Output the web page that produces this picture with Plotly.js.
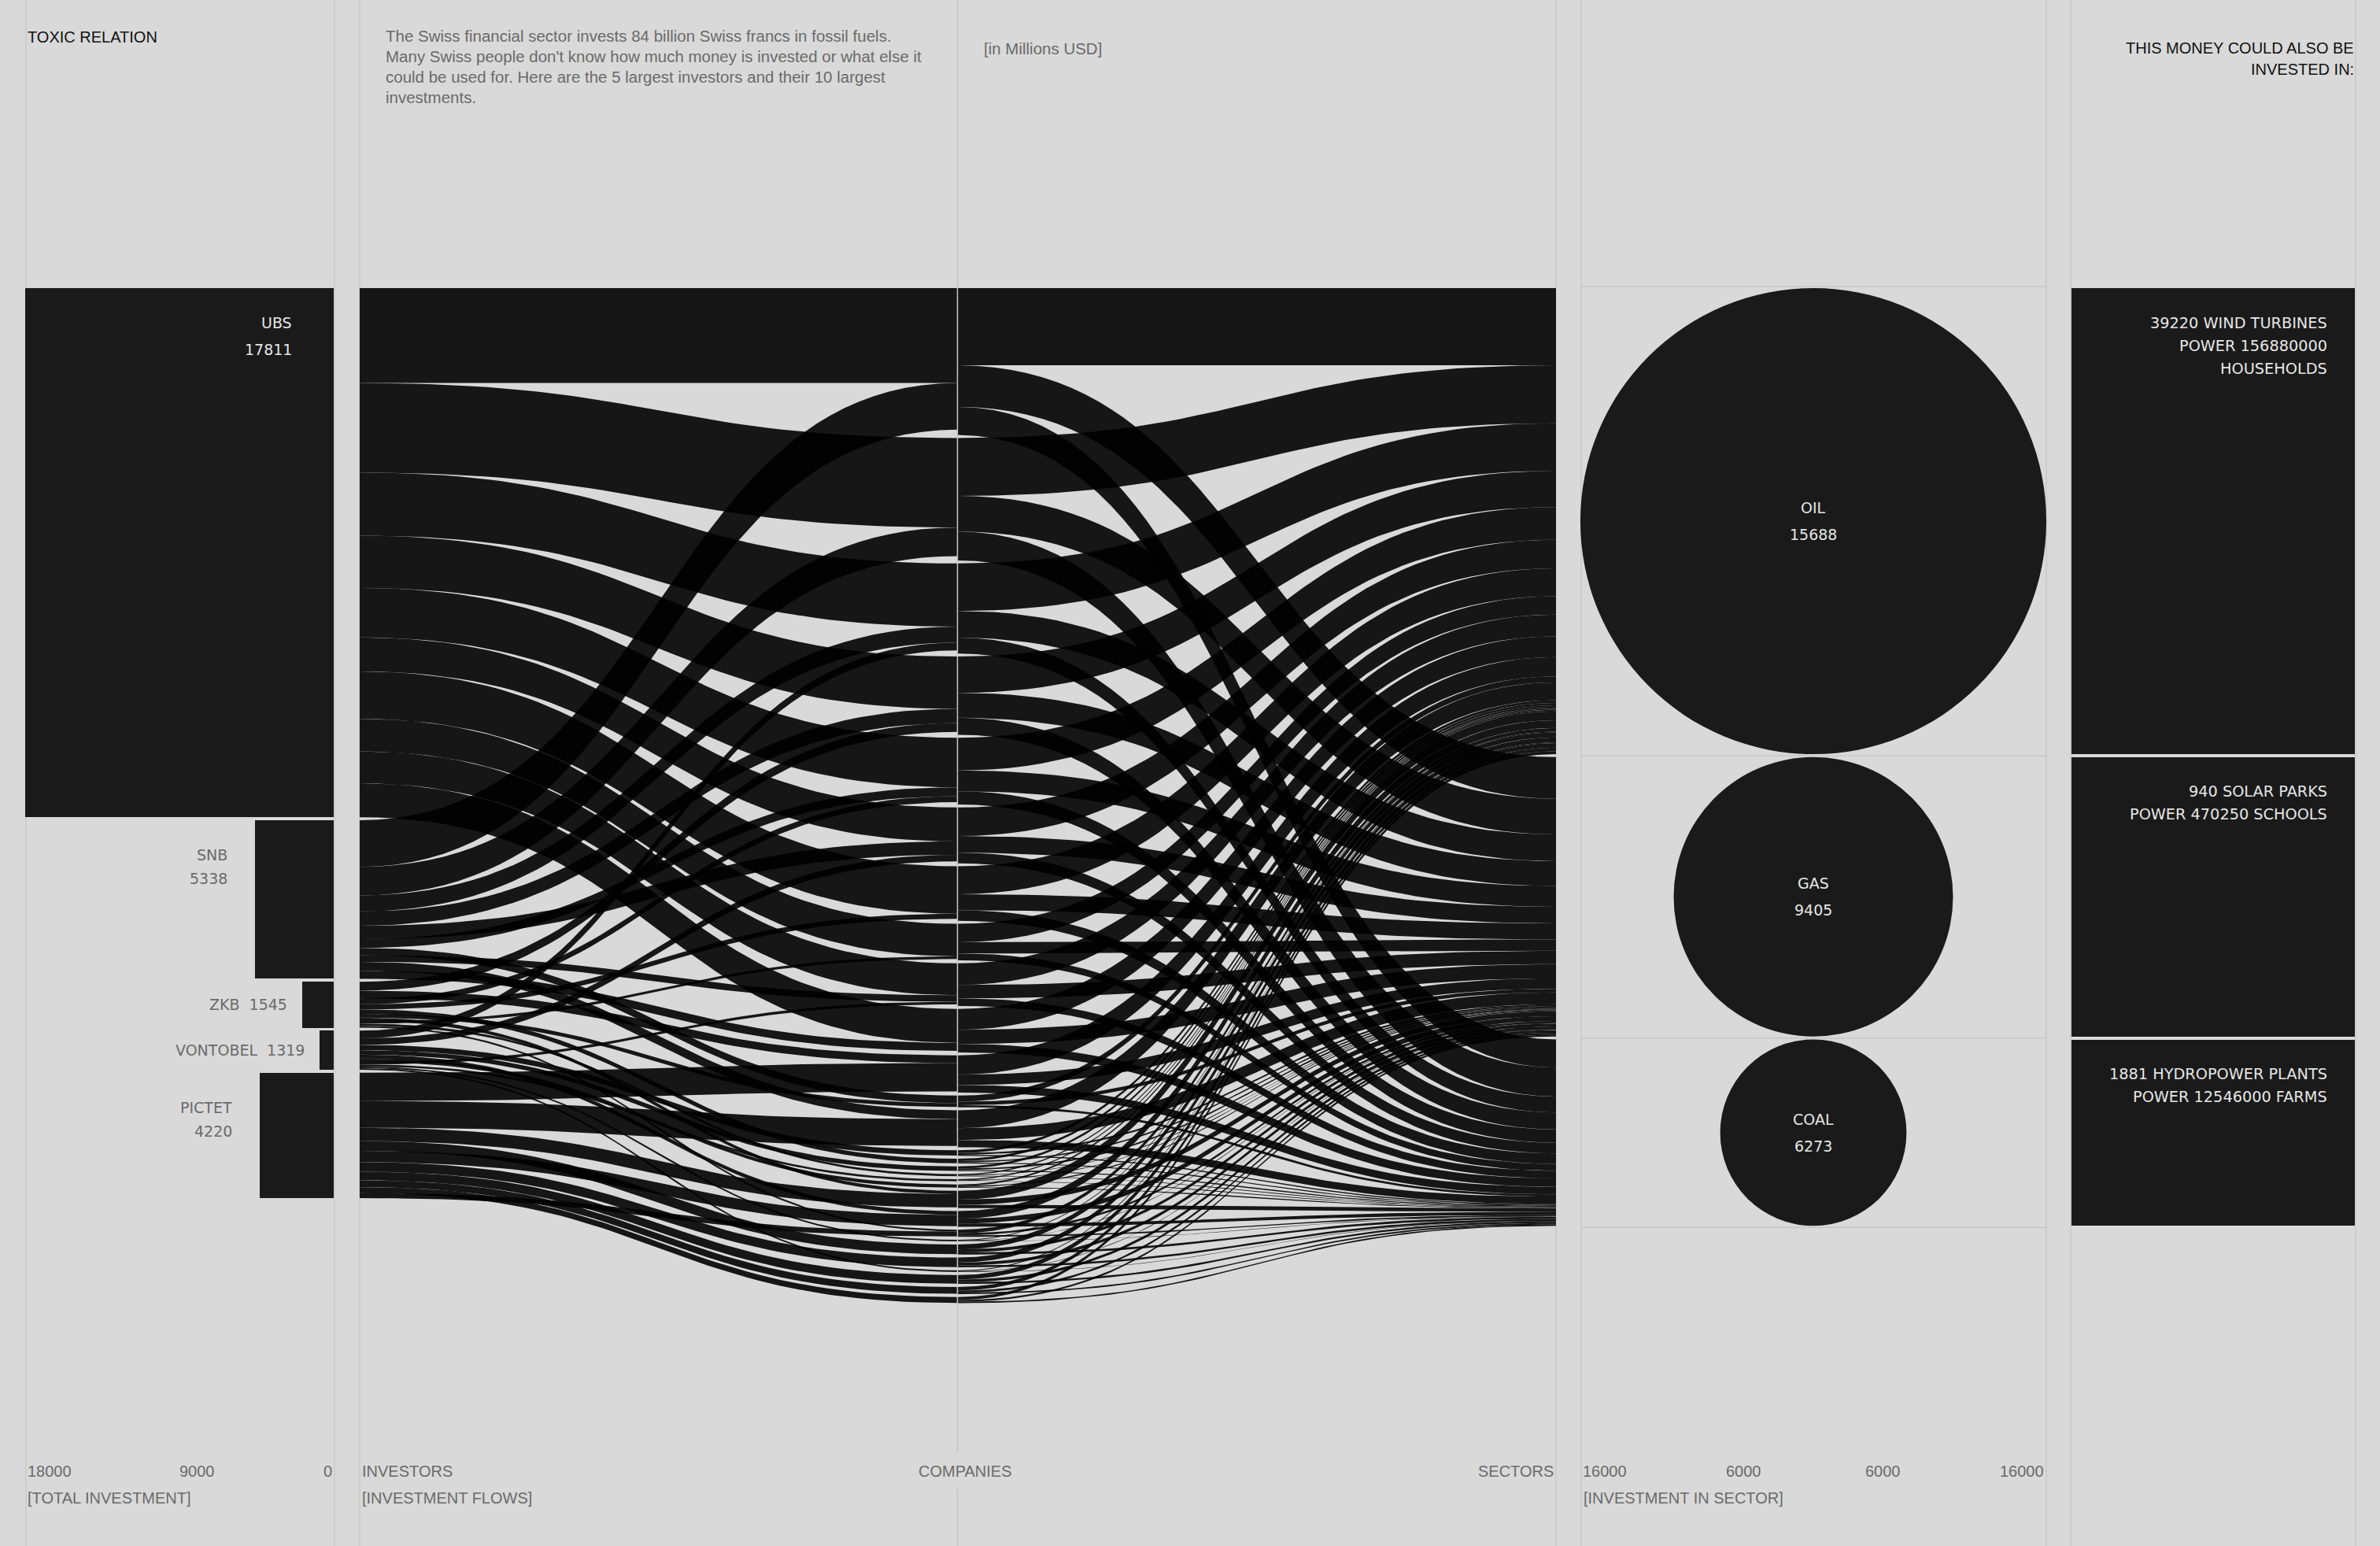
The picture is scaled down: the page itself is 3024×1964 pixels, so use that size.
<!DOCTYPE html>
<html>
<head>
<meta charset="utf-8">
<script src="https://cdn.plot.ly/plotly-3.0.1.min.js"></script>
<style>
html,body{margin:0;padding:0;background:#d9d9d9;}
#chart{width:3024px;height:1964px;}
</style>
</head>
<body>
<div id="chart"></div>
<script>
// ---------------- DATA ----------------
const investors = ["UBS", "SNB", "ZKB", "VONTOBEL", "PICTET"];
const investorValues = [17811, 5338, 1545, 1319, 4220];      // top-10 investments (labels, flow widths)
const totalInvestment = [17811, 4540, 1820, 820, 4270];      // bar lengths on the [TOTAL INVESTMENT] axis

// 29 companies (names are not shown in the chart)
const companies = ["C01","C02","C03","C04","C05","C06","C07","C08","C09","C10",
                   "C11","C12","C13","C14","C15","C16","C17","C18","C19","C20",
                   "C21","C22","C23","C24","C25","C26","C27","C28","C29"];

const ubsValues      = [3196, 3014, 2125, 1758, 1667, 1141, 1598, 1096, 1074, 1142];
const ubsTargets     = [1, 2, 3, 4, 5, 6, 7, 8, 9, 10];
const snbValues      = [1570, 960, 540, 480, 450, 300, 250, 220, 300, 268];
const snbTargets     = [1, 2, 3, 4, 6, 5, 12, 9, 13, 10];
const zkbValues      = [300, 260, 200, 170, 150, 130, 110, 90, 75, 60];
const zkbTargets     = [4, 11, 5, 7, 15, 12, 20, 8, 17, 22];
const vontobelValues = [260, 220, 180, 150, 130, 110, 90, 70, 55, 54];
const vontobelTargets= [3, 6, 14, 16, 21, 19, 9, 18, 23, 26];
const pictetValues   = [950, 900, 450, 330, 380, 320, 290, 230, 200, 170];
const pictetTargets  = [11, 13, 20, 24, 21, 25, 27, 28, 29, 22];

const sectors = ["OIL", "GAS", "COAL"];
const sectorValues = [15688, 9405, 6273];
const companyOil  = [2600,1950,1600,1222,1100,960,940,620,730,700,650,200,600,90,80,75,40,35,55,300,260,120,28,170,165,28,150,120,100];
const companyGas  = [1400,1200,900,838,700,560,540,380,450,480,350,120,400,60,45,50,22,22,35,170,160,70,17,100,100,16,90,70,60];
const companyCoal = [945,973,535,573,448,359,354,231,256,283,255,74,245,37,31,31,16,16,24,111,109,49,12,72,67,12,61,49,45];

const alternatives = [
  ["39220 WIND TURBINES", "POWER 156880000", "HOUSEHOLDS"],
  ["940 SOLAR PARKS", "POWER 470250 SCHOOLS"],
  ["1881 HYDROPOWER PLANTS", "POWER 12546000 FARMS"]
];

const leftTicks = [18000, 9000, 0];
const sectorTickVals = [-16000, -6000, 6000, 16000];
const sectorTickText = ["16000", "6000", "6000", "16000"];

const description = [
  "The Swiss financial sector invests 84 billion Swiss francs in fossil fuels.",
  "Many Swiss people don't know how much money is invested or what else it",
  "could be used for. Here are the 5 largest investors and their 10 largest",
  "investments."
];

// ---------------- LAYOUT CONSTANTS ----------------
const W = 3024, H = 1964;
const K = 0.03774;          // px per value unit (vertical)
const TOP = 366;            // px of first node top
const PAD = 100;            // node gap, value units
const LK = 392 / 17811;     // px per unit on the left bar axis
const CX = 2304;            // circle centre px
const px = v => v / W;
const py = v => 1 - v / H;

const BG = "#d9d9d9", INK = "#1a1a1a", GRID = "#c7c7c7", GREY = "#6a6a6a";
const HEAD_FONT = "Liberation Sans, Arial, sans-serif";
const LAB_FONT = "DejaVu Sans, Verdana, sans-serif";
const HS = 20, DS = 20.5, LS = 19;

// ---------------- SANKEY GEOMETRY ----------------
const invLinks = [
  {vals: ubsValues, tg: ubsTargets},
  {vals: snbValues, tg: snbTargets},
  {vals: zkbValues, tg: zkbTargets},
  {vals: vontobelValues, tg: vontobelTargets},
  {vals: pictetValues, tg: pictetTargets}
];

let acc = 0;
const invTop = [];
investorValues.forEach(v => { invTop.push(acc); acc += v + PAD; });

const nC = companies.length;
const compIn = Array(nC).fill(0);
invLinks.forEach(L => L.vals.forEach((v, j) => { compIn[L.tg[j] - 1] += v; }));
const compOut = companies.map((c, i) => companyOil[i] + companyGas[i] + companyCoal[i]);
const compSize = compOut.map((o, i) => Math.max(o, compIn[i]));
const compTop = [];
acc = 0;
compSize.forEach(s => { compTop.push(acc); acc += s + PAD; });

const secTop = [];
acc = 0;
sectorValues.forEach(v => { secTop.push(acc); acc += v + PAD; });

function band(x0, x1, a0, b0, a1, b1) {
  const N = 48, xs = [], ys = [];
  const xm = (x0 + x1) / 2;
  const bx = t => (1-t)**3*x0 + 3*(1-t)**2*t*xm + 3*(1-t)*t*t*xm + t**3*x1;
  const s = t => 3*t*t - 2*t**3;
  for (let i = 0; i <= N; i++) { const t = i / N; xs.push(bx(t)); ys.push(a0 + (a1 - a0) * s(t)); }
  for (let i = N; i >= 0; i--) { const t = i / N; xs.push(bx(t)); ys.push(b0 + (b1 - b0) * s(t)); }
  xs.push(xs[0]); ys.push(ys[0]);
  return {xs, ys};
}

const traces = [];

// left bars
traces.push({
  type: "bar", orientation: "h",
  x: totalInvestment,
  y: investorValues.map((v, i) => invTop[i] + v / 2),
  width: investorValues,
  base: 0,
  xaxis: "x", yaxis: "y",
  marker: {color: INK, line: {width: 0}},
  hoverinfo: "skip", showlegend: false
});

// flows investors -> companies
const compOff = Array(nC).fill(0);
invLinks.forEach((L, i) => {
  let off = invTop[i];
  L.vals.forEach((v, j) => {
    const c = L.tg[j] - 1;
    const y1 = compTop[c] + compOff[c];
    const b = band(0, 1, off, off + v, y1, y1 + v);
    traces.push({type: "scatter", mode: "lines", x: b.xs, y: b.ys, xaxis: "x2", yaxis: "y",
      fill: "toself", fillcolor: "rgba(0,0,0,0.9)", line: {width: 0}, hoverinfo: "skip", showlegend: false});
    off += v; compOff[c] += v;
  });
});

// flows companies -> sectors
const splits = [companyOil, companyGas, companyCoal];
const secOff = sectorValues.map(() => 0);
for (let c = 0; c < nC; c++) {
  let off = compTop[c];
  splits.forEach((arr, s) => {
    const v = arr[c];
    if (v <= 0) return;
    const y1 = secTop[s] + secOff[s];
    const b = band(1, 2, off, off + v, y1, y1 + v);
    traces.push({type: "scatter", mode: "lines", x: b.xs, y: b.ys, xaxis: "x2", yaxis: "y",
      fill: "toself", fillcolor: "rgba(0,0,0,0.9)", line: {width: 0}, hoverinfo: "skip", showlegend: false});
    off += v; secOff[s] += v;
  });
}

// right boxes
traces.push({
  type: "bar", orientation: "h",
  x: sectorValues.map(() => 1),
  y: sectorValues.map((v, i) => secTop[i] + v / 2),
  width: sectorValues,
  base: 0,
  xaxis: "x4", yaxis: "y",
  marker: {color: INK, line: {width: 0}},
  hoverinfo: "skip", showlegend: false
});

// ---------------- SHAPES ----------------
const shapes = [];
const vlines = [33, 425, 457, 1977, 2009, 2600, 2631, 2993];
vlines.forEach(x => shapes.push({type: "line", xref: "paper", yref: "paper", x0: px(x), x1: px(x), y0: 0, y1: 1,
  line: {color: GRID, width: 1.5}, layer: "below"}));
// companies line (drawn over the flows, broken for its label)
shapes.push({type: "line", xref: "paper", yref: "paper", x0: px(1216.5), x1: px(1216.5), y0: py(0), y1: py(1846),
  line: {color: GRID, width: 1.5}, layer: "above"});
shapes.push({type: "line", xref: "paper", yref: "paper", x0: px(1216.5), x1: px(1216.5), y0: py(1892), y1: 0,
  line: {color: GRID, width: 1.5}, layer: "above"});
// row lines in circle panel
const rowLines = [secTop[0] - PAD / 2].concat(sectorValues.map((v, i) => secTop[i] + v + PAD / 2));
rowLines.forEach(y => shapes.push({type: "line", xref: "paper", yref: "y", x0: px(2009), x1: px(2600), y0: y, y1: y,
  line: {color: GRID, width: 1.5}, layer: "below"}));
// circles
sectorValues.forEach((v, i) => shapes.push({type: "circle", xref: "x3", yref: "y",
  x0: -v, x1: v, y0: secTop[i], y1: secTop[i] + v,
  fillcolor: INK, line: {width: 0}, layer: "above"}));

// ---------------- ANNOTATIONS ----------------
const ann = [];
function txt(o) { ann.push(Object.assign({showarrow: false, yanchor: "middle"}, o)); }

// header
txt({xref: "paper", yref: "paper", x: px(33), y: py(47), xanchor: "left", text: "TOXIC RELATION",
  font: {family: HEAD_FONT, size: HS, color: "#111"}});
description.forEach((line, i) => txt({xref: "paper", yref: "paper", x: px(488), y: py(45 + i * 26.3), xanchor: "left",
  text: line, font: {family: HEAD_FONT, size: DS, color: GREY}}));
txt({xref: "paper", yref: "paper", x: px(1248), y: py(61), xanchor: "left", text: "[in Millions USD]",
  font: {family: HEAD_FONT, size: DS, color: GREY}});
txt({xref: "paper", yref: "paper", x: px(2993), y: py(61), xanchor: "right", text: "THIS MONEY COULD ALSO BE",
  font: {family: HEAD_FONT, size: HS, color: "#111"}});
txt({xref: "paper", yref: "paper", x: px(2993), y: py(88), xanchor: "right", text: "INVESTED IN:",
  font: {family: HEAD_FONT, size: HS, color: "#111"}});

// investor labels
investors.forEach((name, i) => {
  const v = investorValues[i], L = totalInvestment[i];
  const barPx = L * LK, hPx = v * K;
  if (barPx > 200) {
    txt({xref: "x", yref: "y", x: 0, y: invTop[i], xanchor: "right", xshift: -51, yshift: -44, text: name,
      font: {family: LAB_FONT, size: LS, color: "#e6e6e6"}});
    txt({xref: "x", yref: "y", x: 0, y: invTop[i], xanchor: "right", xshift: -51, yshift: -78, text: String(v),
      font: {family: LAB_FONT, size: LS, color: "#e6e6e6"}});
  } else if (hPx > 90) {
    txt({xref: "x", yref: "y", x: L, y: invTop[i], xanchor: "right", xshift: -33, yshift: -44, text: name,
      font: {family: LAB_FONT, size: LS, color: GREY}});
    txt({xref: "x", yref: "y", x: L, y: invTop[i], xanchor: "right", xshift: -33, yshift: -74, text: String(v),
      font: {family: LAB_FONT, size: LS, color: GREY}});
  } else {
    txt({xref: "x", yref: "y", x: L, y: invTop[i] + v / 2, xanchor: "right", xshift: -17,
      text: name + "\u00a0\u00a0" + v, font: {family: LAB_FONT, size: LS, color: GREY}});
  }
});

// circle labels
sectors.forEach((s, i) => {
  const yc = secTop[i] + sectorValues[i] / 2;
  txt({xref: "x3", yref: "y", x: 0, y: yc, yshift: 17, xanchor: "center", text: s,
    font: {family: LAB_FONT, size: LS, color: "#e6e6e6"}});
  txt({xref: "x3", yref: "y", x: 0, y: yc, yshift: -17, xanchor: "center", text: String(sectorValues[i]),
    font: {family: LAB_FONT, size: LS, color: "#e6e6e6"}});
});

// alternative labels
alternatives.forEach((lines, i) => lines.forEach((l, j) => txt({xref: "x4", yref: "y", x: 1, y: secTop[i],
  xanchor: "right", xshift: -33, yshift: -44 - 29 * j, text: l, font: {family: LAB_FONT, size: 19.3, color: "#e6e6e6"}})));

// bottom axis labels
const AX_Y = py(1869), AX2_Y = py(1903);
leftTicks.forEach((t, i) => txt({xref: "x", yref: "paper", x: t, y: AX_Y,
  xanchor: i === leftTicks.length - 1 ? "right" : "left", xshift: i === 0 ? 5 : 0,
  text: String(t), font: {family: HEAD_FONT, size: HS, color: GREY}}));
txt({xref: "paper", yref: "paper", x: px(33), y: AX2_Y, xanchor: "left", text: "[TOTAL INVESTMENT]",
  font: {family: HEAD_FONT, size: HS, color: GREY}});
txt({xref: "paper", yref: "paper", x: px(458), y: AX_Y, xanchor: "left", text: "INVESTORS",
  font: {family: HEAD_FONT, size: HS, color: GREY}});
txt({xref: "paper", yref: "paper", x: px(458), y: AX2_Y, xanchor: "left", text: "[INVESTMENT FLOWS]",
  font: {family: HEAD_FONT, size: HS, color: GREY}});
txt({xref: "paper", yref: "paper", x: px(1226), y: AX_Y, xanchor: "center", text: "COMPANIES",
  font: {family: HEAD_FONT, size: HS, color: GREY}});
txt({xref: "paper", yref: "paper", x: px(1976), y: AX_Y, xanchor: "right", text: "SECTORS",
  font: {family: HEAD_FONT, size: HS, color: GREY}});
sectorTickVals.forEach((t, i) => txt({xref: "x3", yref: "paper", x: t, y: AX_Y,
  xanchor: t < 0 ? "left" : "right", xshift: Math.abs(t) > 10000 ? (t < 0 ? 7 : -7) : 0,
  text: sectorTickText[i], font: {family: HEAD_FONT, size: HS, color: GREY}}));
txt({xref: "paper", yref: "paper", x: px(2010), y: AX2_Y, xanchor: "left", text: "[INVESTMENT IN SECTOR]",
  font: {family: HEAD_FONT, size: HS, color: GREY}});

// ---------------- LAYOUT ----------------
const hidden = {visible: false, showgrid: false, zeroline: false, fixedrange: true};
const layout = {
  width: W, height: H,
  margin: {l: 0, r: 0, t: 0, b: 0, pad: 0},
  paper_bgcolor: BG, plot_bgcolor: "rgba(0,0,0,0)",
  showlegend: false, barmode: "overlay", bargap: 0,
  xaxis:  Object.assign({domain: [px(424 - 18000 * LK), px(424)], range: [18000, 0], anchor: "y"}, hidden),
  xaxis2: Object.assign({domain: [px(457), px(1977)], range: [0, 2], anchor: "y"}, hidden),
  xaxis3: Object.assign({domain: [px(CX - 16000 * K / 2), px(CX + 16000 * K / 2)], range: [-16000, 16000], anchor: "y"}, hidden),
  xaxis4: Object.assign({domain: [px(2632), px(2992)], range: [0, 1], anchor: "y"}, hidden),
  yaxis:  Object.assign({domain: [0, 1], range: [(H - TOP) / K, -TOP / K], anchor: "x"}, hidden),
  shapes: shapes,
  annotations: ann
};

Plotly.newPlot("chart", traces, layout, {displayModeBar: false, staticPlot: true});
</script>
</body>
</html>
